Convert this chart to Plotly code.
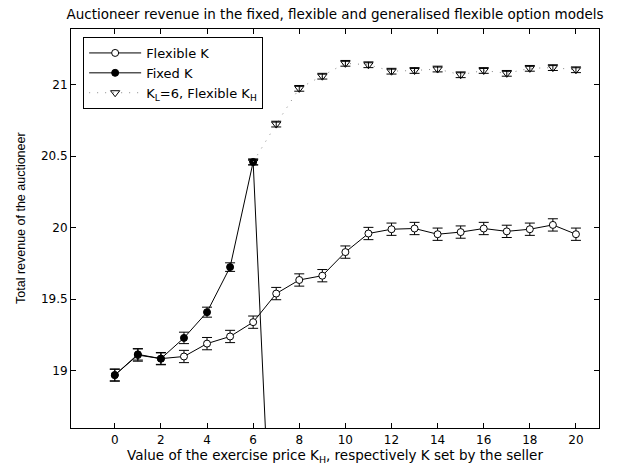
import plotly.graph_objects as go

x_flex = list(range(0, 21))
flex_k = [18.97, 19.11, 19.085, 19.10, 19.19, 19.24, 19.34, 19.54, 19.635, 19.665, 19.83,
          19.96, 19.99, 19.995, 19.955, 19.97, 19.995, 19.975, 19.99, 20.02, 19.955]
flex_err = [0.043] * 21

x_fixed = list(range(0, 8))
fixed_k = [18.97, 19.115, 19.085, 19.23, 19.41, 19.725, 20.46, 16.95]
fixed_err = [0.04, 0.04, 0.04, 0.04, 0.035, 0.03, 0.02, 0.02]

x_gen = list(range(6, 21))
gen_k = [20.46, 20.725, 20.975, 21.06, 21.15, 21.14, 21.095, 21.10, 21.11, 21.07,
         21.10, 21.08, 21.115, 21.12, 21.105]
gen_err = [0.02] * 15

x_ticks = list(range(0, 21, 2))
y_ticks = [19, 19.5, 20, 20.5, 21]
y_tick_text = ["19", "19.5", "20", "20.5", "21"]

FONT = "DejaVu Sans, Arial, sans-serif"
FONT_NARROW = "Liberation Sans, Arial, sans-serif"

fig = go.Figure()
fig.add_trace(go.Scatter(
    x=x_flex, y=flex_k, name="Flexible K", mode="lines+markers",
    line=dict(color="black", width=1),
    marker=dict(symbol="circle", size=7, color="white", line=dict(color="black", width=1)),
    error_y=dict(type="data", array=flex_err, color="black", thickness=1, width=5),
))
fig.add_trace(go.Scatter(
    x=x_fixed, y=fixed_k, name="Fixed K", mode="lines+markers",
    line=dict(color="black", width=1),
    marker=dict(symbol="circle", size=7, color="black", line=dict(color="black", width=1)),
    error_y=dict(type="data", array=fixed_err, color="black", thickness=1, width=5),
))
fig.add_trace(go.Scatter(
    x=x_gen, y=gen_k, name="K<sub>L</sub>=6, Flexible K<sub>H</sub>", mode="lines+markers",
    line=dict(color="#888888", width=1, dash="1px,7px"),
    marker=dict(symbol="triangle-down-open", size=8, color="black", line=dict(color="black", width=1)),
    error_y=dict(type="data", array=gen_err, color="black", thickness=1, width=5),
))

axis_common = dict(
    showgrid=False, zeroline=False, showline=True, linecolor="black", linewidth=1,
    mirror="allticks", ticks="inside", ticklen=5, tickcolor="black", automargin=False,
    tickfont=dict(family=FONT, size=12, color="black"),
)
fig.update_xaxes(
    range=[-1.9, 21], tickvals=x_ticks, ticklabelstandoff=1,
    title=dict(text="Value of the exercise price K<sub>H</sub>, respectively K set by the seller",
               font=dict(family=FONT, size=13.5, color="black"), standoff=2),
    **axis_common,
)
fig.update_yaxes(
    range=[18.6, 21.39], tickvals=y_ticks, ticktext=y_tick_text,
    **axis_common,
)
fig.add_annotation(
    text="Total revenue of the auctioneer", textangle=-90,
    xref="paper", yref="paper", x=(21 - 71) / 528, y=(428 - 218) / 399,
    xanchor="center", yanchor="middle", showarrow=False,
    font=dict(family=FONT_NARROW, size=12.5, color="black"),
)
fig.update_layout(
    width=621, height=466,
    margin=dict(l=71, r=22, t=29, b=38),
    paper_bgcolor="white", plot_bgcolor="white",
    title=dict(text="Auctioneer revenue in the fixed, flexible and generalised flexible option models",
               xref="paper", x=0.5, xanchor="center",
               yref="container", y=1 - 14 / 466, yanchor="middle",
               font=dict(family=FONT, size=13.5, color="black")),
    legend=dict(x=0.023, y=0.98, xanchor="left", yanchor="top",
                bgcolor="white", bordercolor="black", borderwidth=1,
                font=dict(family=FONT, size=13, color="black"),
                tracegroupgap=0, itemwidth=52),
    showlegend=True,
)
fig.write_html("out.html", config={"displayModeBar": False},
               post_script="document.body.style.margin='0';")
